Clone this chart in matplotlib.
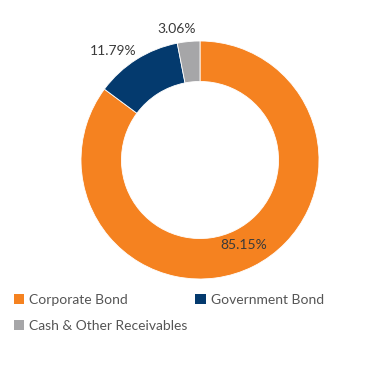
import numpy as np
import matplotlib
matplotlib.use("Agg")
import matplotlib.pyplot as plt
from matplotlib.patches import Patch

plt.rcParams['font.family'] = ['Lato', 'DejaVu Sans']

# data
labels = ["Corporate Bond", "Government Bond", "Cash & Other Receivables"]
values = [85.15, 11.79, 3.06]
colors = ["#F58220", "#043A6E", "#A6A6A8"]

W, H = 369, 390
fig = plt.figure(figsize=(W / 100, H / 100), dpi=100)

# donut axes: centre (200,160) px, outer radius 119 px
cx, cy, r = 200, 160, 119
ax = fig.add_axes([(cx - r) / W, (H - cy - r) / H, 2 * r / W, 2 * r / H])
wedges, _ = ax.pie(values, colors=colors, startangle=90, counterclock=False,
                   radius=1, wedgeprops=dict(width=0.34, edgecolor="white", linewidth=0.6))
ax.set_xlim(-1, 1)
ax.set_ylim(-1, 1)
ax.set_aspect("equal")
ax.axis("off")

# percent labels
start = 90
cum = 0
label_r = [0.80, 1.09, 1.11]
nudge = [(0.01, 0.0), (-0.145, -0.01), (-0.09, 0.0)]
for v, lr, (nx, ny) in zip(values, label_r, nudge):
    mid = np.deg2rad(start - (cum + v / 2) * 3.6)
    cum += v
    ax.text(lr * np.cos(mid) + nx, lr * np.sin(mid) + ny, f"{v:.2f}%",
            ha="center", va="center", fontsize=10, color="#3a3a3a")

# legend: column-major order so Government Bond sits in the second column
order = [0, 2, 1]
handles = [Patch(facecolor=colors[i], edgecolor="none") for i in order]
leg = fig.legend(handles, [labels[i] for i in order], ncol=2, loc="upper left",
                 bbox_to_anchor=(1 / W, 1 - 281 / H), frameon=False,
                 fontsize=10, handlelength=0.75, handleheight=0.75,
                 handletextpad=0.35, columnspacing=0.6, labelspacing=1.05,
                 labelcolor="#555555")

fig.savefig("out.png", dpi=100)
